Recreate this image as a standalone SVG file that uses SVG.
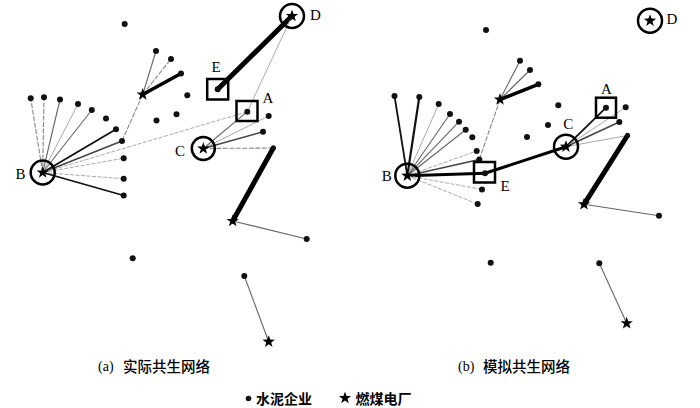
<svg xmlns="http://www.w3.org/2000/svg" xmlns:xlink="http://www.w3.org/1999/xlink" width="700" height="408" viewBox="0 0 700 408">
<style>
.k5{stroke:#000;stroke-width:5;fill:none;stroke-linecap:round}
.k3{stroke:#000;stroke-width:3;fill:none;stroke-linecap:round}
.k2{stroke:#111;stroke-width:1.8;fill:none}
.gk{stroke:#444;stroke-width:1.5;fill:none}
.g{stroke:#666;stroke-width:1.1;fill:none}
.gd{stroke:#888;stroke-width:1.1;fill:none;stroke-dasharray:5 1.5}
.lg{stroke:#aaa;stroke-width:1;fill:none}
.ld{stroke:#aaa;stroke-width:1;fill:none;stroke-dasharray:4 1.5}
.dot{fill:#111}
.ring{fill:none;stroke:#000;stroke-width:2.5}
.box{fill:none;stroke:#000;stroke-width:2.5}
.lab{font-family:"Liberation Serif","DejaVu Serif",serif;font-size:15px;fill:#000;text-anchor:middle}
.cap{font-family:"Liberation Serif",serif;font-size:14px;fill:#000}
.cjk{font-family:"Noto Sans CJK SC",sans-serif;font-size:14.5px;font-weight:500;fill:#000}
.leg{font-family:"Noto Sans CJK SC",sans-serif;font-size:14px;font-weight:bold;fill:#000}
</style>
<defs>
<path id="star" d="M0,-6.5 L1.53,-2.1 L6.18,-2.01 L2.47,0.8 L3.82,5.26 L0,2.6 L-3.82,5.26 L-2.47,0.8 L-6.18,-2.01 L-1.53,-2.1 Z" fill="#000"/>
</defs>
<rect width="700" height="408" fill="#fff"/>

<g id="connectors">
<!-- panel a -->
<line class="gd" x1="42.7" y1="172.5" x2="30.7" y2="98.3"/>
<line class="gd" x1="42.7" y1="172.5" x2="44" y2="97.3"/>
<line class="g" x1="42.7" y1="172.5" x2="60" y2="99.5"/>
<line class="lg" x1="42.7" y1="172.5" x2="78" y2="104"/>
<line class="g" x1="42.7" y1="172.5" x2="91.8" y2="110"/>
<line class="k2" x1="42.7" y1="172.5" x2="116" y2="129.3"/>
<line class="gk" x1="42.7" y1="172.5" x2="122" y2="141"/>
<line class="ld" x1="42.7" y1="172.5" x2="123.7" y2="158.3"/>
<line class="ld" x1="42.7" y1="172.5" x2="123.7" y2="178.8"/>
<line class="k2" x1="42.7" y1="172.5" x2="123.7" y2="195.5"/>
<line class="ld" x1="42.7" y1="172.5" x2="247.3" y2="111.7"/>
<line class="gd" x1="122" y1="141" x2="142.7" y2="94.5"/>
<line class="g" x1="142.7" y1="94.5" x2="156" y2="51"/>
<line class="gd" x1="142.7" y1="94.5" x2="171" y2="59"/>
<line class="k3" x1="142.7" y1="94.5" x2="181" y2="73.5" style="stroke-width:3.5"/>
<line class="k5" x1="217.7" y1="89.3" x2="292" y2="16"/>
<line class="lg" x1="292" y1="16" x2="247.3" y2="111.7"/>
<line class="g" x1="203.3" y1="148.5" x2="247.3" y2="111.7"/>
<line class="lg" x1="203.3" y1="148.5" x2="268.7" y2="116"/>
<line class="gk" x1="203.3" y1="148.5" x2="263" y2="131.7"/>
<line class="gd" x1="203.3" y1="148.5" x2="273.3" y2="148"/>
<line class="k5" x1="273.3" y1="148" x2="232.7" y2="221"/>
<line class="g" x1="232.7" y1="221" x2="306.7" y2="239"/>
<line class="g" x1="244.3" y1="276" x2="268.7" y2="341.7"/>
<!-- panel b -->
<line class="k2" x1="407.3" y1="175.7" x2="394.5" y2="96"/>
<line class="k2" x1="407.3" y1="175.7" x2="419.3" y2="97" style="stroke-width:2.2"/>
<line class="lg" x1="407.3" y1="175.7" x2="438.7" y2="104"/>
<line class="g" x1="407.3" y1="175.7" x2="450" y2="114"/>
<line class="g" x1="407.3" y1="175.7" x2="459" y2="121.7"/>
<line class="g" x1="407.3" y1="175.7" x2="465.7" y2="129.7"/>
<line class="ld" x1="407.3" y1="175.7" x2="476.7" y2="151"/>
<line class="gk" x1="407.3" y1="175.7" x2="479.3" y2="159.5"/>
<line class="k3" x1="407.3" y1="175.7" x2="485" y2="173.3"/>
<line class="ld" x1="407.3" y1="175.7" x2="482" y2="189.5"/>
<line class="ld" x1="407.3" y1="175.7" x2="477.7" y2="204"/>
<line class="gd" x1="479.3" y1="159.5" x2="500" y2="99.5"/>
<line class="g" x1="500" y1="99.5" x2="520" y2="60.7"/>
<line class="g" x1="500" y1="99.5" x2="530" y2="70"/>
<line class="k3" x1="500" y1="99.5" x2="538.3" y2="84.3" style="stroke-width:3.5"/>
<line class="k3" x1="485" y1="173.3" x2="566" y2="146.7"/>
<line class="k2" x1="566" y1="146.7" x2="606" y2="107.7"/>
<line class="lg" x1="566" y1="146.7" x2="625.7" y2="107.3"/>
<line class="gk" x1="566" y1="146.7" x2="619.3" y2="122"/>
<line class="lg" x1="566" y1="146.7" x2="627.5" y2="135.5"/>
<line class="k5" x1="627.5" y1="135.5" x2="584" y2="204.3"/>
<line class="g" x1="584" y1="204.3" x2="659" y2="215.7"/>
<line class="g" x1="599.3" y1="263.3" x2="626.7" y2="323.3"/>
</g>

<!-- panel a nodes -->
<g id="a-B"><circle class="ring" cx="42.7" cy="172.5" r="12"/><use xlink:href="#star" x="42.7" y="172.5"/><text class="lab" x="20.5" y="178.5">B</text></g>
<g id="a-c1"><circle class="dot" cx="30.7" cy="98.3" r="3"/></g>
<g id="a-c2"><circle class="dot" cx="44" cy="97.3" r="3"/></g>
<g id="a-c3"><circle class="dot" cx="60" cy="99.5" r="3"/></g>
<g id="a-c4"><circle class="dot" cx="78" cy="104" r="3"/></g>
<g id="a-c5"><circle class="dot" cx="91.8" cy="110" r="3"/></g>
<g id="a-c6"><circle class="dot" cx="106" cy="118.5" r="3"/></g>
<g id="a-c7"><circle class="dot" cx="116" cy="129.3" r="3"/></g>
<g id="a-c8"><circle class="dot" cx="122" cy="141" r="3"/></g>
<g id="a-c9"><circle class="dot" cx="123.7" cy="158.3" r="3"/></g>
<g id="a-c10"><circle class="dot" cx="123.7" cy="178.8" r="3"/></g>
<g id="a-c11"><circle class="dot" cx="123.7" cy="195.5" r="3"/></g>
<g id="a-p1"><use xlink:href="#star" x="142.7" y="94.5"/></g>
<g id="a-c12"><circle class="dot" cx="156" cy="51" r="3"/></g>
<g id="a-c13"><circle class="dot" cx="171" cy="59" r="3"/></g>
<g id="a-c14"><circle class="dot" cx="181" cy="73.5" r="3"/></g>
<g id="a-c15"><circle class="dot" cx="124.7" cy="24" r="3"/></g>
<g id="a-c16"><circle class="dot" cx="187.3" cy="95.3" r="3"/></g>
<g id="a-c17"><circle class="dot" cx="156.5" cy="120.5" r="3"/></g>
<g id="a-c18"><circle class="dot" cx="176.5" cy="114.3" r="3"/></g>
<g id="a-E"><rect class="box" x="207.2" y="79" width="21" height="20.5"/><circle class="dot" cx="217.7" cy="89.3" r="3"/><text class="lab" x="216" y="72">E</text></g>
<g id="a-D"><circle class="ring" cx="292" cy="16" r="12"/><use xlink:href="#star" x="292" y="16"/><text class="lab" x="315.5" y="19.5">D</text></g>
<g id="a-A"><rect class="box" x="236.5" y="101" width="21" height="20"/><circle class="dot" cx="247.3" cy="111.7" r="3"/><text class="lab" x="268" y="103">A</text></g>
<g id="a-c19"><circle class="dot" cx="268.7" cy="116" r="3"/></g>
<g id="a-c20"><circle class="dot" cx="263" cy="131.7" r="3"/></g>
<g id="a-C"><circle class="ring" cx="203.3" cy="148.5" r="11.5"/><use xlink:href="#star" x="203.3" y="148.5"/><text class="lab" x="180" y="155.5">C</text></g>
<g id="a-c21"><circle class="dot" cx="273.3" cy="148" r="2.5"/></g>
<g id="a-p2"><use xlink:href="#star" x="232.7" y="221"/></g>
<g id="a-c22"><circle class="dot" cx="306.7" cy="239" r="3"/></g>
<g id="a-c23"><circle class="dot" cx="132.7" cy="258.3" r="3"/></g>
<g id="a-c24"><circle class="dot" cx="244.3" cy="276" r="3"/></g>
<g id="a-p3"><use xlink:href="#star" x="268.7" y="341.7"/></g>

<!-- panel b nodes -->
<g id="b-B"><circle class="ring" cx="407.3" cy="175.7" r="12"/><use xlink:href="#star" x="407.3" y="175.7"/><text class="lab" x="386.7" y="181">B</text></g>
<g id="b-c1"><circle class="dot" cx="394.5" cy="96" r="3"/></g>
<g id="b-c2"><circle class="dot" cx="419.3" cy="97" r="3"/></g>
<g id="b-c3"><circle class="dot" cx="438.7" cy="104" r="3"/></g>
<g id="b-c4"><circle class="dot" cx="450" cy="114" r="3"/></g>
<g id="b-c5"><circle class="dot" cx="459" cy="121.7" r="3"/></g>
<g id="b-c6"><circle class="dot" cx="465.7" cy="129.7" r="3"/></g>
<g id="b-c7"><circle class="dot" cx="472.3" cy="137.3" r="3"/></g>
<g id="b-c8"><circle class="dot" cx="476.7" cy="151" r="3"/></g>
<g id="b-c9"><circle class="dot" cx="479.3" cy="159.5" r="3"/></g>
<g id="b-E"><rect class="box" x="474" y="162" width="21" height="20.5"/><circle class="dot" cx="485" cy="173.3" r="3"/><text class="lab" x="505" y="191">E</text></g>
<g id="b-c10"><circle class="dot" cx="482" cy="189.5" r="3"/></g>
<g id="b-c11"><circle class="dot" cx="477.7" cy="204" r="3"/></g>
<g id="b-p1"><use xlink:href="#star" x="500" y="99.5"/></g>
<g id="b-c12"><circle class="dot" cx="520" cy="60.7" r="3"/></g>
<g id="b-c13"><circle class="dot" cx="530" cy="70" r="3"/></g>
<g id="b-c14"><circle class="dot" cx="538.3" cy="84.3" r="3"/></g>
<g id="b-c15"><circle class="dot" cx="486" cy="30" r="3"/></g>
<g id="b-c16"><circle class="dot" cx="558.3" cy="105.3" r="3"/></g>
<g id="b-c17"><circle class="dot" cx="548" cy="125" r="3"/></g>
<g id="b-c18"><circle class="dot" cx="527" cy="137" r="3"/></g>
<g id="b-D"><circle class="ring" cx="650" cy="20.7" r="12"/><use xlink:href="#star" x="650" y="20.7"/><text class="lab" x="672" y="24">D</text></g>
<g id="b-A"><rect class="box" x="596" y="97.7" width="20" height="20"/><circle class="dot" cx="606" cy="107.7" r="3"/><text class="lab" x="606.5" y="93.5">A</text></g>
<g id="b-c19"><circle class="dot" cx="625.7" cy="107.3" r="3"/></g>
<g id="b-c20"><circle class="dot" cx="619.3" cy="122" r="3"/></g>
<g id="b-C"><circle class="ring" cx="566" cy="146.7" r="12"/><use xlink:href="#star" x="566" y="146.7"/><text class="lab" x="568.3" y="128.5">C</text></g>
<g id="b-c21"><circle class="dot" cx="627.5" cy="135.5" r="2.5"/></g>
<g id="b-p2"><use xlink:href="#star" x="584" y="204.3"/></g>
<g id="b-c22"><circle class="dot" cx="659" cy="215.7" r="3"/></g>
<g id="b-c23"><circle class="dot" cx="490.7" cy="262.7" r="3"/></g>
<g id="b-c24"><circle class="dot" cx="599.3" cy="263.3" r="3"/></g>
<g id="b-p3"><use xlink:href="#star" x="626.7" y="323.3"/></g>

<g id="captions">
<text class="cap" x="98" y="371">(a)</text>
<text class="cjk" x="123" y="371.5">实际共生网络</text>
<text class="cap" x="458" y="371">(b)</text>
<text class="cjk" x="483" y="371.5">模拟共生网络</text>
</g>
<g id="legend">
<circle class="dot" cx="248.5" cy="398.5" r="2.8"/>
<text class="leg" x="256" y="403.5">水泥企业</text>
<use xlink:href="#star" x="345" y="398"/>
<text class="leg" x="355.5" y="403.5">燃煤电厂</text>
</g>
</svg>
